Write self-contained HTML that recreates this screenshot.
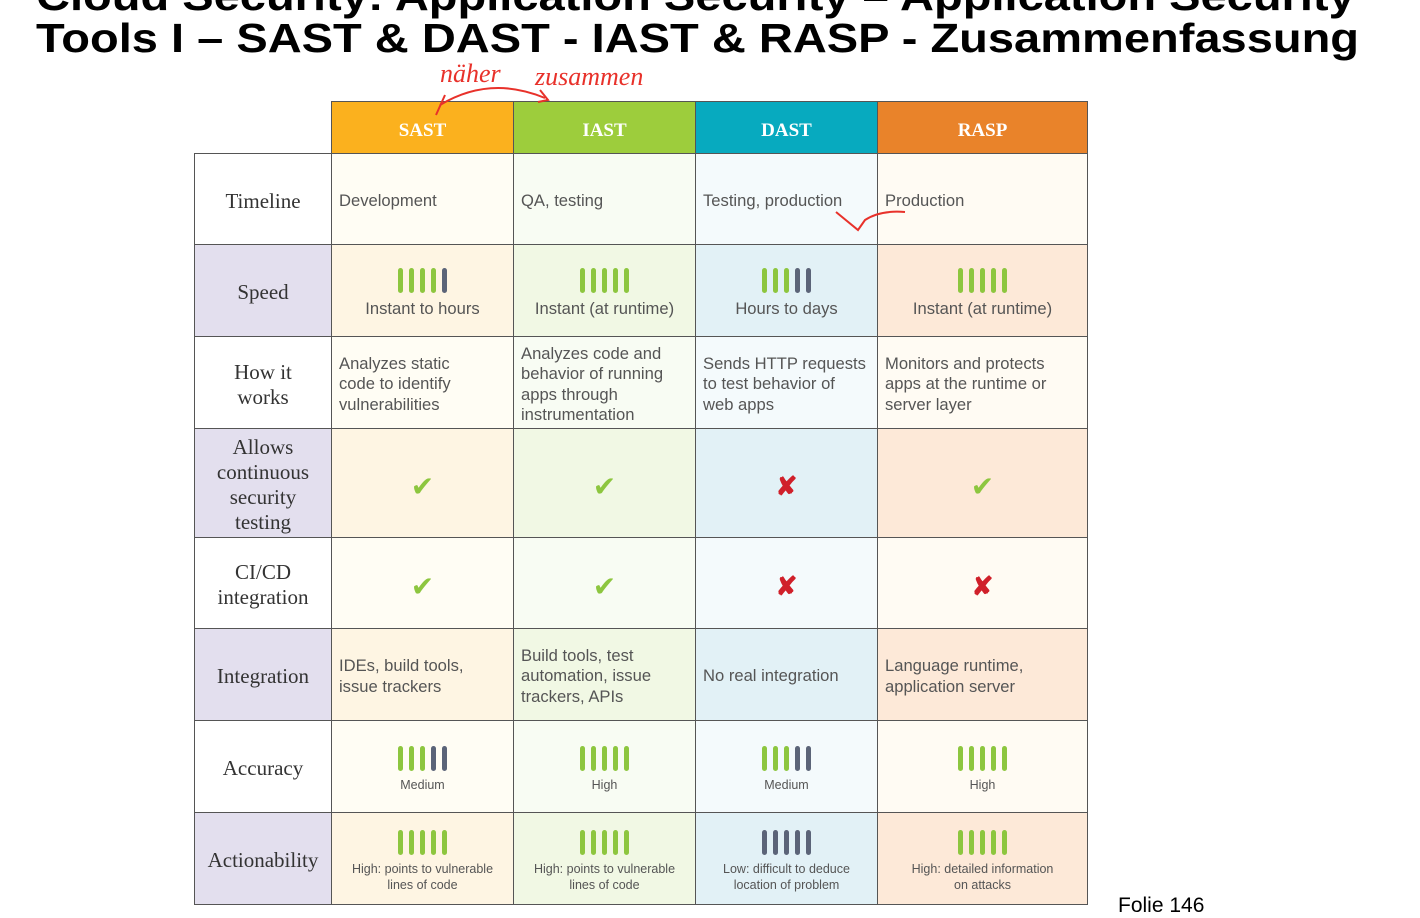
<!DOCTYPE html>
<html><head><meta charset="utf-8"><style>
body{margin:0;width:1420px;height:912px;overflow:hidden;background:#fff;font-family:"Liberation Sans",sans-serif;position:relative}
.t{position:absolute;left:36px;font-weight:bold;font-size:41px;color:#000;white-space:nowrap;line-height:1;transform:scaleX(1.147);transform-origin:0 0}
.c{position:absolute;box-sizing:border-box;border:1px solid #555;color:#555;font-size:16.6px;display:flex;align-items:center}
.h{color:#fff;font-family:"Liberation Serif",serif;font-weight:bold;font-size:19px;justify-content:center;padding-top:6px}
.l{font-family:"Liberation Serif",serif;font-size:21px;color:#333;justify-content:center;text-align:center;line-height:25px;padding-top:4px}
.tx{padding-left:7px;line-height:20.5px;padding-top:4px}
.ctr{justify-content:center;flex-direction:column;text-align:center;padding-top:6px}
.bars{display:flex;gap:6px;margin-bottom:6px}
.bars i{display:block;width:5px;height:25px;border-radius:3px;background:#8dc63f}
.bars i.g{background:#5b6478}
.sm{font-size:12.5px;line-height:16px}
.ok{color:#8dc63f;font-size:28px}.no{color:#d0202a;font-size:26px;font-weight:bold}
</style></head><body>
<div class="t" style="top:-24px">Cloud Security: Application Security – Application Security</div>
<div class="t" style="top:18px">Tools I – SAST &amp; DAST - IAST &amp; RASP - Zusammenfassung</div>
<div id="g"></div>
<div style="position:absolute;left:1118px;top:894px;font-size:21px;color:#000">Folie 146</div>
<svg style="position:absolute;left:0;top:0" width="1420" height="912">
<g fill="none" stroke="#e8312a" stroke-width="2">
<text x="440" y="82" font-family="Liberation Serif" font-style="italic" font-size="26" fill="#e8312a" stroke="none">näher</text>
<text x="535" y="85" font-family="Liberation Serif" font-style="italic" font-size="26" fill="#e8312a" stroke="none">zusammen</text>
<path d="M440 105 Q490 75 545 98"/><path d="M436 115 L445 95 M540 90 L548 100 L538 102"/>
<path d="M836 212 L858 230 L865 220 Q880 210 905 212"/>
</g></svg>
<script>
const X=[194,331,513,695,877,1087],Y=[153,244,336,428,537,628,720,812,904];
const light=['#fffdf4','#f8fcf3','#f4fafc','#fffbf3'],tint=['#fef5e3','#f1f8e4','#e2f1f6','#fde9d8'];
let h='';
const hc=['#fbb11e','#9dcd3c','#07aabf','#e9832a'],hn=['SAST','IAST','DAST','RASP'];
for(let i=0;i<4;i++)h+=`<div class="c h" style="left:${X[i+1]}px;top:101px;width:${X[i+2]-X[i+1]+1}px;height:53px;background:${hc[i]}">${hn[i]}</div>`;
const labels=['Timeline','Speed','How it<br>works','Allows<br>continuous<br>security<br>testing','CI/CD<br>integration','Integration','Accuracy','Actionability'];
const B=(n,g)=>'<div class="bars">'+'<i></i>'.repeat(n-g)+'<i class="g"></i>'.repeat(g)+'</div>';
const ck='<span class="ok">✔</span>',x='<span class="no">✘</span>';
const cells=[
['Development','QA, testing','Testing, production','Production'],
[B(5,1)+'Instant to hours',B(5,0)+'Instant (at runtime)',B(5,2)+'Hours to days',B(5,0)+'Instant (at runtime)'],
['Analyzes static<br>code to identify<br>vulnerabilities','Analyzes code and<br>behavior of running<br>apps through<br>instrumentation','Sends HTTP requests<br>to test behavior of<br>web apps','Monitors and protects<br>apps at the runtime or<br>server layer'],
[ck,ck,x,ck],[ck,ck,x,x],
['IDEs, build tools,<br>issue trackers','Build tools, test<br>automation, issue<br>trackers, APIs','No real integration','Language runtime,<br>application server'],
[B(5,2)+'<span class="sm">Medium</span>',B(5,0)+'<span class="sm">High</span>',B(5,2)+'<span class="sm">Medium</span>',B(5,0)+'<span class="sm">High</span>'],
[B(5,0)+'<span class="sm">High: points to vulnerable<br>lines of code</span>',B(5,0)+'<span class="sm">High: points to vulnerable<br>lines of code</span>',B(5,5)+'<span class="sm">Low: difficult to deduce<br>location of problem</span>',B(5,0)+'<span class="sm">High: detailed information<br>on attacks</span>']];
const ctrRows=[1,3,4,6,7];
for(let r=0;r<8;r++){
 const t=r%2==1;
 h+=`<div class="c l" style="left:194px;top:${Y[r]}px;width:138px;height:${Y[r+1]-Y[r]+1}px;background:${t?'#e3dfee':'#fff'}">${labels[r]}</div>`;
 for(let i=0;i<4;i++){
  const cls=ctrRows.includes(r)?'ctr':'tx';
  h+=`<div class="c ${cls}" style="left:${X[i+1]}px;top:${Y[r]}px;width:${X[i+2]-X[i+1]+1}px;height:${Y[r+1]-Y[r]+1}px;background:${t?tint[i]:light[i]}">${cells[r][i]}</div>`;
 }}
document.getElementById('g').innerHTML=h;
</script>
</body></html>
